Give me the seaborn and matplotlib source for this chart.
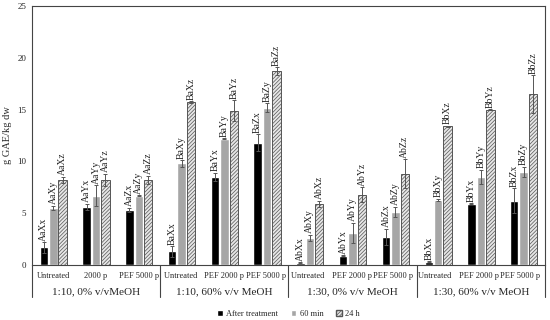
import numpy as np
import pandas as pd
import matplotlib
matplotlib.use("Agg")
import matplotlib.pyplot as plt
import matplotlib.transforms as mtransforms
import seaborn as sns

sns.set_theme(style="white")
plt.rcParams['font.family'] = ['Liberation Serif', 'DejaVu Serif']
plt.rcParams['hatch.linewidth'] = 0.5

# data
categories = ['Untreated', '2000 p', 'PEF 5000 p',
              'Untreated ', 'PEF 2000 p', 'PEF 5000 p ',
              'Untreated  ', 'PEF 2000 p ', 'PEF 5000 p  ',
              'Untreated   ', 'PEF 2000 p  ', 'PEF 5000 p   ']
groups = ['1:10, 0% v/vMeOH', '1:10, 60% v/v MeOH', '1:30, 0% v/v MeOH', '1:30, 60% v/v MeOH']
series = ['After treatment', '60 min', '24 h']

after_vals = [1.7, 5.6, 5.3, 1.3, 8.5, 11.8, 0.2, 0.9, 2.7, 0.3, 5.9, 6.2]
min60_vals = [5.5, 6.7, 6.7, 9.8, 12.2, 15.2, 2.6, 3.1, 5.1, 6.3, 8.5, 9.0]
h24_vals = [8.2, 8.2, 8.2, 15.7, 14.9, 18.7, 5.9, 6.8, 8.8, 13.4, 15.0, 16.5]

after_err = [0.5, 0.3, 0.2, 0.5, 0.4, 0.8, 0.05, 0.05, 0.8, 0.05, 0.05, 1.2]
min60_err = [0.2, 1.0, 0.05, 0.3, 0.05, 0.4, 0.3, 1.0, 0.5, 0.1, 0.7, 0.5]
h24_err = [0.3, 0.6, 0.4, 0.1, 1.0, 0.4, 0.3, 0.7, 1.4, 0.05, 0.05, 1.8]

after_lbl = ['AaXx', 'AaYx', 'AaZx', 'BaXx', 'BaYx', 'BaZx', 'AbXx', 'AbYx', 'AbZx', 'BbXx', 'BbYx', 'BbZx']
min60_lbl = ['AaXy', 'AaYy', 'AaZy', 'BaXy', 'BaYy', 'BaZy', 'AbXy', 'AbYy', 'AbZy', 'BbXy', 'BbYy', 'BbZy']
h24_lbl = ['AaXz', 'AaYz', 'AaZz', 'BaXz', 'BaYz', 'BaZz', 'AbXz', 'AbYz', 'AbZz', 'BbXz', 'BbYz', 'BbZz']

df = pd.DataFrame({
    'cat': categories * 3,
    'series': [series[0]] * 12 + [series[1]] * 12 + [series[2]] * 12,
    'value': after_vals + min60_vals + h24_vals,
})
errs = after_err + min60_err + h24_err
lbls = after_lbl + min60_lbl + h24_lbl

fig = plt.figure(figsize=(5.5, 3.2), dpi=100)
ax = fig.add_axes([0.058, 0.172, 0.933, 0.809])

sns.barplot(data=df, x='cat', y='value', hue='series', order=categories,
            hue_order=series, palette=['#000000', '#a6a6a6', '#e6e6e6'],
            width=0.66, gap=0.1, ax=ax, legend=True)

# hatched 24 h bars
bar_containers = list(ax.containers)
for p in bar_containers[2]:
    p.set_hatch('/////////')
    p.set_edgecolor('#555555')
    p.set_linewidth(0.7)

k = 0
for c in bar_containers:
    for p in c:
        x = p.get_x() + p.get_width() / 2
        h = p.get_height()
        e = errs[k]
        ax.errorbar(x, h, yerr=e, fmt='none', ecolor='#555555', elinewidth=0.7, capsize=1.5, capthick=0.7)
        ax.text(x, h + e + 0.15, lbls[k], rotation=90, ha='center', va='bottom', fontsize=7, color='#222222')
        k += 1

ax.set_ylim(0, 25)
ax.set_xlim(-0.5, 11.5)
ax.set_yticks([0, 5, 10, 15, 20, 25])
ax.tick_params(axis='y', labelsize=6.5, length=0, pad=4)
ax.tick_params(axis='x', labelsize=6, length=0, pad=5)
ax.set_xlabel('')
ax.set_ylabel('g GAE/kg dw', fontsize=7.5)
for s in ax.spines.values():
    s.set_color('#444444')
    s.set_linewidth(0.8)

# group separators and group labels under the axis
trans = mtransforms.blended_transform_factory(ax.transData, ax.transAxes)
for xs in [-0.5, 2.5, 5.5, 8.5, 11.5]:
    ax.plot([xs, xs], [0, -0.125], transform=trans, color='#444444', lw=0.8, clip_on=False)
for gi, g in enumerate(groups):
    ax.text(gi * 3 + 1, -0.103, g, transform=trans, ha='center', va='center', fontsize=8)

handles, labels = ax.get_legend_handles_labels()
for hnd in handles[2:]:
    hnd.set_hatch('/////////')
    hnd.set_edgecolor('#555555')
ax.legend(handles, labels, loc='upper center', bbox_to_anchor=(0.5, -0.145), ncol=3,
          frameon=False, fontsize=6, handlelength=0.7, handleheight=0.7,
          columnspacing=1.5, handletextpad=0.4)

fig.savefig('out.png', dpi=100)
